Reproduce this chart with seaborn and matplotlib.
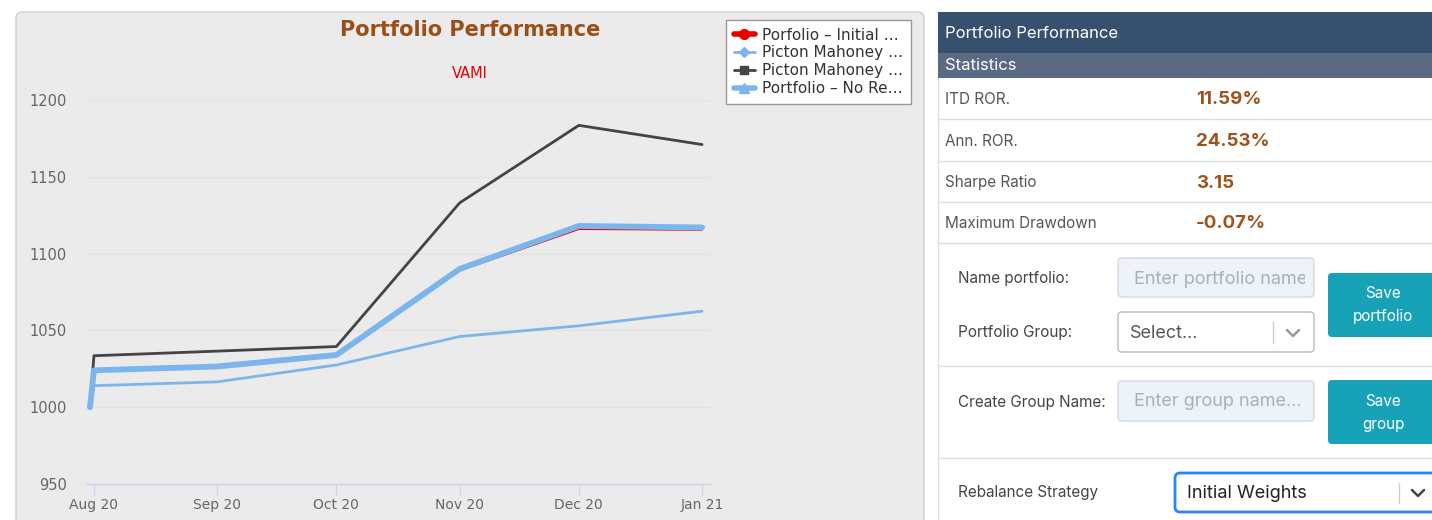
import pandas as pd
import seaborn as sns
import matplotlib.pyplot as plt
import matplotlib.dates as mdates
from matplotlib.patches import FancyBboxPatch, Rectangle
from matplotlib.lines import Line2D
from matplotlib.transforms import Bbox, TransformedBbox

sns.set_style("white")
plt.rcParams["font.family"] = ["DejaVu Sans"]

# -------------------------
# DATA
# -------------------------

dates = ["2020-07-31", "2020-08-01", "2020-09-01", "2020-10-01",
         "2020-11-01", "2020-12-01", "2021-01-01"]
initial_weights = [1000, 1023.5, 1026.0, 1033.5, 1089.0, 1116.0, 1115.5]
picton_light = [1000, 1014.0, 1016.5, 1027.5, 1046.0, 1053.0, 1062.5]
picton_dark = [1000, 1033.5, 1036.5, 1039.5, 1133.0, 1183.5, 1171.0]
no_rebalance = [1000, 1024.0, 1026.5, 1034.0, 1090.0, 1118.0, 1117.0]

legend_labels = ["Porfolio – Initial …", "Picton Mahoney …",
                 "Picton Mahoney …", "Portfolio – No Re…"]
y_ticks = [950, 1000, 1050, 1100, 1150, 1200]

stat_labels = ["ITD ROR.", "Ann. ROR.", "Sharpe Ratio", "Maximum Drawdown"]
stat_values = ["11.59%", "24.53%", "3.15", "-0.07%"]

df = pd.DataFrame({
    "date": pd.to_datetime(dates * 4),
    "value": initial_weights + picton_light + picton_dark + no_rebalance,
    "series": ["initial"] * 7 + ["picton_light"] * 7 + ["picton_dark"] * 7 + ["no_rebalance"] * 7,
})

RED = "#e60000"
LBLUE = "#7cb5ec"
DARK = "#434348"
BROWN = "#9b4f17"

fig = plt.figure(figsize=(14.32, 5.2), dpi=100)

# -------------------------
# BACKGROUND / UI LAYER (pixel coords)
# -------------------------

ui = fig.add_axes([0, 0, 1, 1])
ui.set_xlim(0, 1432)
ui.set_ylim(520, 0)
ui.axis("off")


def box(x0, y0, x1, y1, fc, ec="none", lw=1.0, r=0):
    if r:
        p = FancyBboxPatch((x0, y0), x1 - x0, y1 - y0,
                           boxstyle=f"round,pad=0,rounding_size={r}",
                           fc=fc, ec=ec, lw=lw)
    else:
        p = Rectangle((x0, y0), x1 - x0, y1 - y0, fc=fc, ec=ec, lw=lw)
    ui.add_patch(p)


def chevron(x, y, color="#999"):
    ui.plot([x - 6, x, x + 6], [y - 3, y + 3, y - 3], color=color, lw=1.8,
            solid_capstyle="round", solid_joinstyle="round")


# chart panel
box(16, 12, 924, 540, "#ebebeb", ec="#cfcfcf", lw=1, r=6)
ui.text(470, 30, "Portfolio Performance", ha="center", va="center",
        fontsize=15, fontweight="bold", color=BROWN)
ui.text(470, 73, "VAMI", ha="center", va="center", fontsize=10.5, color=RED)

# right panel
PF = "Inter"
box(938, 12, 1440, 540, "white", ec="#dddddd", lw=1)
box(938, 12, 1440, 53, "#36506e")
box(938, 53, 1440, 78, "#5b6a83")
ui.text(945, 34, "Portfolio Performance", va="center", fontsize=12,
        color="white", family=PF)
ui.text(945, 65, "Statistics", va="center", fontsize=12, color="white", family=PF)

row_y = [100, 141, 183, 224]
for sep in [119, 161, 202, 243]:
    ui.plot([938, 1432], [sep, sep], color="#dcdcdc", lw=1)
for y, lab, val in zip(row_y, stat_labels, stat_values):
    ui.text(945, y, lab, va="center", fontsize=11, color="#555555", family=PF)
    ui.text(1196, y, val, va="center", fontsize=13.5, fontweight="bold",
            color="#a0521c", family=PF)

# form
ui.text(958, 279, "Name portfolio:", va="center", fontsize=11, color="#444444", family=PF)
box(1118, 258, 1314, 297, "#eef2f9", ec="#d3d9e2", lw=1, r=4)
t = ui.text(1134, 279, "Enter portfolio name", va="center", fontsize=13,
            color="#a9b0ba", family=PF)
t.set_clip_box(TransformedBbox(Bbox([[1118, 258], [1305, 297]]), ui.transData))
t.set_clip_on(True)

ui.text(958, 333, "Portfolio Group:", va="center", fontsize=11, color="#444444", family=PF)
box(1118, 312, 1314, 352, "white", ec="#bbbbbb", lw=1, r=4)
ui.text(1130, 333, "Select...", va="center", fontsize=13, color="#555555", family=PF)
ui.plot([1273, 1273], [322, 343], color="#cccccc", lw=1)
chevron(1293, 333)

box(1328, 273, 1445, 337, "#17a2b8", r=4)
ui.text(1383, 293, "Save", ha="center", va="center", fontsize=11, color="white", family=PF)
ui.text(1383, 316, "portfolio", ha="center", va="center", fontsize=11, color="white", family=PF)

ui.plot([938, 1432], [366, 366], color="#dcdcdc", lw=1)

ui.text(958, 402, "Create Group Name:", va="center", fontsize=11, color="#444444", family=PF)
box(1118, 381, 1314, 421, "#eef2f9", ec="#d3d9e2", lw=1, r=4)
ui.text(1134, 402, "Enter group name...", va="center", fontsize=13,
        color="#a9b0ba", family=PF)
box(1328, 380, 1445, 444, "#17a2b8", r=4)
ui.text(1383, 401, "Save", ha="center", va="center", fontsize=11, color="white", family=PF)
ui.text(1383, 424, "group", ha="center", va="center", fontsize=11, color="white", family=PF)

ui.plot([938, 1432], [458, 458], color="#dcdcdc", lw=1)

ui.text(958, 493, "Rebalance Strategy", va="center", fontsize=11, color="#444444", family=PF)
box(1175, 473, 1445, 512, "white", ec="#2684ff", lw=2, r=5)
ui.text(1187, 493, "Initial Weights", va="center", fontsize=13, color="#222222", family=PF)
ui.plot([1399, 1399], [483, 503], color="#cccccc", lw=1)
chevron(1418, 493, color="#444444")

# -------------------------
# CHART
# -------------------------

ax = fig.add_axes([86 / 1432, (520 - 484) / 520, (710 - 86) / 1432, (484 - 100) / 520])
ax.set_facecolor("none")

styles = [
    ("picton_light", LBLUE, 2.0),
    ("picton_dark", DARK, 2.0),
    ("initial", RED, 1.4),
    ("no_rebalance", LBLUE, 4.2),
]
for key, color, lw in styles:
    sns.lineplot(data=df[df["series"] == key], x="date", y="value", color=color,
                 linewidth=lw, ax=ax, legend=False,
                 solid_capstyle="round", solid_joinstyle="round")

ax.set_ylim(950, 1200)
ax.set_yticks(y_ticks)
ax.set_xlim(pd.Timestamp("2020-07-30"), pd.Timestamp("2021-01-03"))
ax.xaxis.set_major_locator(mdates.MonthLocator())
ax.xaxis.set_major_formatter(mdates.DateFormatter("%b %y"))
ax.set_xlabel("")
ax.set_ylabel("")

ax.grid(axis="y", color="#e2e2e2", lw=1)
ax.grid(axis="x", visible=False)
for s in ["top", "right", "left"]:
    ax.spines[s].set_visible(False)
ax.spines["bottom"].set_color("#ccd6eb")
ax.spines["bottom"].set_linewidth(1)
ax.tick_params(axis="y", left=False, length=0, pad=14, labelsize=10.5, labelcolor="#666666")
ax.tick_params(axis="x", bottom=True, length=8, width=1, color="#ccd6eb", pad=2,
               labelsize=10, labelcolor="#666666")

handles = [
    Line2D([0], [0], color=RED, lw=4, marker="o", markersize=7),
    Line2D([0], [0], color=LBLUE, lw=2, marker="D", markersize=5),
    Line2D([0], [0], color=DARK, lw=2, marker="s", markersize=6),
    Line2D([0], [0], color=LBLUE, lw=4, marker="^", markersize=7),
]
leg = ax.legend(handles, legend_labels, loc="upper left",
                bbox_to_anchor=(726 / 1432, 1 - 20 / 520), bbox_transform=fig.transFigure,
                fontsize=11, frameon=True, fancybox=False, framealpha=1,
                edgecolor="#999999", borderpad=0.5, labelspacing=0.18,
                handlelength=1.4, handletextpad=0.45, borderaxespad=0)
leg.get_frame().set_linewidth(1)
for txt in leg.get_texts():
    txt.set_color("#333333")

fig.savefig("out.png", dpi=100)
